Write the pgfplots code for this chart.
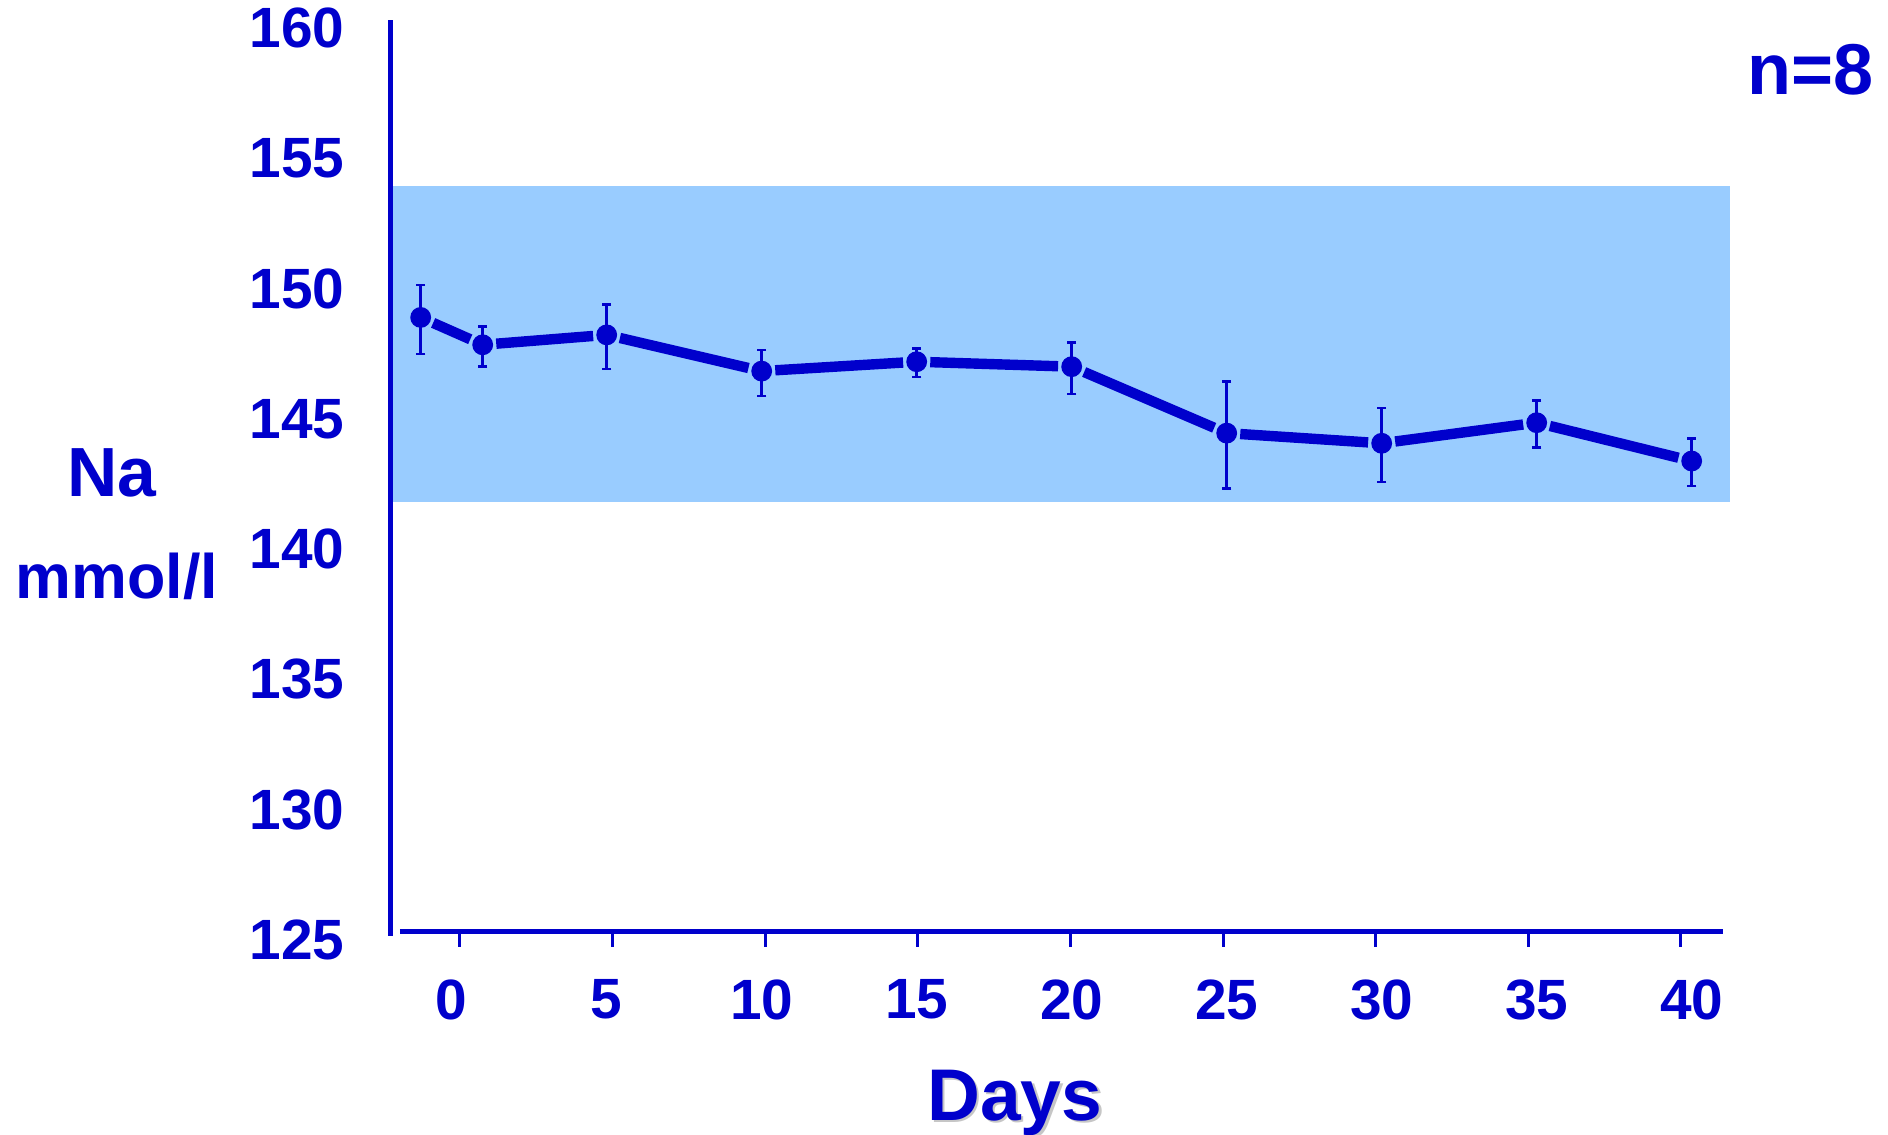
\documentclass[border=0pt]{standalone}
\usepackage{pgfplots}
\pgfplotsset{compat=1.18}
\usepackage{pgfplotstable}
\usepackage{fontspec}
\setmainfont{Liberation Sans}
\definecolor{dblue}{RGB}{0,0,204}
\definecolor{bandblue}{RGB}{153,204,255}
\pgfplotstableread{
x y ep em
-1 148.74 1.25 1.41
1 147.69 0.71 0.84
5 148.07 1.16 1.31
10 146.68 0.81 0.96
15 147.04 0.51 0.59
20 146.85 0.93 1.05
25 144.30 1.98 2.12
30 143.91 1.36 1.49
35 144.70 0.85 0.96
40 143.23 0.87 0.96
}\datatable
\begin{document}
\begin{tikzpicture}
\useasboundingbox (-97.625pt,-49.75pt) rectangle (374.375pt,234pt);
\begin{axis}[
  at={(0,0)}, anchor=south west,
  scale only axis,
  width=334.87pt, height=229pt,
  xmin=-1.974, xmax=41.235,
  ymin=125, ymax=160.15,
  clip=false,
  axis line style={draw=none},
  xtick={0.268,5.191,10.114,15.037,19.960,24.883,29.806,34.729,39.652},
  xticklabels={0,5,10,15,20,25,30,35,40},
  ytick={125,130,...,160},
  xtick pos=lower, ytick pos=left,
  tick align=outside,
  major tick length=3.75pt,
  xtick style={draw=dblue, line width=0.75pt, yshift=1.075pt},
  ytick style={draw=none},
  /pgf/number format/assume math mode=true,
  ticklabel style={font=\fontsize{14.2}{16}\selectfont\bfseries, text=dblue},
  xticklabel style={anchor=north, inner sep=0pt, yshift=-6.975pt, xshift={-2.075pt+0.6pt*\ticknum}},
  yticklabel style={anchor=east, inner sep=0pt, xshift=-7.6pt, yshift=-1pt},
]
\addplot[fill=bandblue, draw=none] coordinates {(-1.974,141.67) (41.235,141.67) (41.235,153.77) (-1.974,153.77)} -- cycle;
\draw[dblue, line width=1.1pt] (axis cs:-1.974,160.15) -- (axis cs:-1.974,125.0);
\draw[dblue, line width=1.25pt] (axis cs:-1.668,125.165) -- (axis cs:41.01,125.165);
\pgfplotsinvokeforeach{125,130,...,160}{
  \draw[dblue, line width=1.25pt] (axis cs:-1.974,#1) ++(-2.45pt,0) -- ++(0.5pt,0);
}
\pgfplotsset{seg/.style={dblue, line width=2.6pt, no marks, shorten <=3.4pt, shorten >=3.4pt}}
\addplot[seg] coordinates {(-1,148.74) (1,147.69)};
\addplot[seg] coordinates {(1,147.69) (5,148.07)};
\addplot[seg] coordinates {(5,148.07) (10,146.68)};
\addplot[seg] coordinates {(10,146.68) (15,147.04)};
\addplot[seg] coordinates {(15,147.04) (20,146.85)};
\addplot[seg] coordinates {(20,146.85) (25,144.30)};
\addplot[seg] coordinates {(25,144.30) (30,143.91)};
\addplot[seg] coordinates {(30,143.91) (35,144.70)};
\addplot[seg] coordinates {(35,144.70) (40,143.23)};
% error bar caps
\addplot[only marks, mark=-, mark size=1.1pt, mark options={draw=dblue, line width=0.65pt}]
  table[x=x, y expr=\thisrow{y}+\thisrow{ep}] {\datatable};
\addplot[only marks, mark=-, mark size=1.2pt, mark options={draw=dblue, line width=0.65pt}]
  table[x=x, y expr=\thisrow{y}-\thisrow{em}] {\datatable};
\addplot[only marks, mark=*, mark size=2.45pt, mark options={draw=dblue, fill=dblue, line width=0.3pt},
  error bars/.cd, y dir=both, y explicit, error mark=none,
  error bar style={dblue, line width=0.65pt}]
  table[x=x, y=y, y error plus=ep, y error minus=em] {\datatable};
\end{axis}
\node[anchor=base, inner sep=0pt, text=dblue, font=\fontsize{17.4}{20}\selectfont\bfseries] at (-69.6pt,109.975pt) {Na};
\node[anchor=base, inner sep=0pt, text=dblue, font=\fontsize{15.7}{18}\selectfont\bfseries] at (-68.4pt,84.375pt) {mmol/l};
\node[anchor=base, inner sep=0pt, text=gray!45, font=\fontsize{18.3}{21}\selectfont\bfseries] at (156.7pt,-46.625pt) {Days};
\node[anchor=base, inner sep=0pt, text=dblue, font=\fontsize{18.3}{21}\selectfont\bfseries] at (156.1pt,-46.025pt) {Days};
\node[anchor=base east, inner sep=0pt, text=dblue, font=\fontsize{18}{21}\selectfont\bfseries] at (370.9pt,210.275pt) {n=8};
\end{tikzpicture}
\end{document}
